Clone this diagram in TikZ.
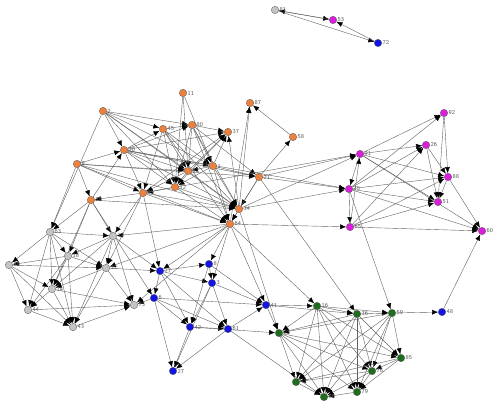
\documentclass[tikz,border=0pt]{standalone}
\usetikzlibrary{arrows.meta,backgrounds}
\begin{document}
\begin{tikzpicture}[x=1pt,y=-1pt]
\tikzset{
 vtx/.style={circle, draw=black!65, line width=0.3pt, inner sep=0pt, minimum size=7.5pt},
 org/.style={vtx, fill={rgb,255:red,236;green,128;blue,60}},
 gry/.style={vtx, fill={rgb,255:red,196;green,196;blue,196}},
 blu/.style={vtx, fill={rgb,255:red,20;green,20;blue,230}},
 grn/.style={vtx, fill={rgb,255:red,30;green,110;blue,30}},
 mag/.style={vtx, fill={rgb,255:red,220;green,30;blue,220}},
 lab/.style={font=\sffamily\fontsize{6}{6}\selectfont, text=black!65, inner sep=0.6pt},
 edge/.style={draw=black!62, line width=0.4pt, -{Latex[length=6pt,width=5pt,color=black]}}
}
\useasboundingbox (0,0) rectangle (500,406);
% top
\node[gry,label={[lab]right:81}] (g81) at (275,10) {};
\node[mag,label={[lab]right:53}] (m53) at (333,20) {};
\node[blu,label={[lab]right:72}] (b72) at (378,43) {};
% orange
\node[org,label={[lab]right:2}] (o2) at (103,111) {};
\node[org,label={[lab]right:45}] (o45) at (163,129) {};
\node[org,label={[lab]right:11}] (o11) at (183,93) {};
\node[org,label={[lab]right:80}] (o80) at (192,125) {};
\node[org,label={[lab]right:87}] (o87) at (250,103) {};
\node[org,label={[lab]right:37}] (o37) at (228,132) {};
\node[org,label={[lab]right:58}] (o58) at (293,137) {};
\node[org,label={[lab]right:30}] (o30) at (124,150) {};
\node[org,label={[lab]right:9}] (o9) at (77,164) {};
\node[org,label={[lab]right:1}] (o1) at (213,166) {};
\node[org,label={[lab]right:52}] (o52) at (188,171) {};
\node[org,label={[lab]right:21}] (o21) at (259,177) {};
\node[org,label={[lab]right:12}] (o12) at (175,187) {};
\node[org,label={[lab]right:13}] (o13) at (143,193) {};
\node[org,label={[lab]right:20}] (o20) at (91,200) {};
\node[org,label={[lab]right:34}] (o34) at (239,209) {};
\node[org,label={[lab]right:64}] (o64) at (230,224) {};
% gray
\node[gry,label={[lab]right:63}] (g63) at (50,232) {};
\node[gry,label={[lab]right:19}] (g19) at (113,236) {};
\node[gry,label={[lab]right:18}] (g18) at (68,256) {};
\node[gry,label={[lab]right:39}] (g39) at (9,265) {};
\node[gry,label={[lab]right:32}] (g32) at (106,268) {};
\node[gry,label={[lab]right:14}] (g14) at (52,289) {};
\node[gry,label={[lab]right:44}] (g44) at (28,310) {};
\node[gry,label={[lab]right:73}] (g73) at (134,305) {};
\node[gry,label={[lab]right:43}] (g43) at (73,327) {};
% blue
\node[blu,label={[lab]right:77}] (b77) at (160,271) {};
\node[blu,label={[lab]right:6}] (b6) at (154,298) {};
\node[blu,label={[lab]right:8}] (b8) at (209,264) {};
\node[blu,label={[lab]right:3}] (b3) at (212,283) {};
\node[blu,label={[lab]right:41}] (b41) at (266,305) {};
\node[blu,label={[lab]right:42}] (b42) at (190,327) {};
\node[blu,label={[lab]right:61}] (b61) at (228,329) {};
\node[blu,label={[lab]right:27}] (b27) at (173,371) {};
\node[blu,label={[lab]right:48}] (b48) at (442,312) {};
% green
\node[grn,label={[lab]right:16}] (n16) at (317,306) {};
\node[grn,label={[lab]right:36}] (n36) at (357,314) {};
\node[grn,label={[lab]right:59}] (n59) at (392,313) {};
\node[grn,label={[lab]right:23}] (n23) at (279,333) {};
\node[grn,label={[lab]right:85}] (n85) at (401,358) {};
\node[grn,label={[lab]right:76}] (n76) at (372,371) {};
\node[grn,label={[lab]right:47}] (n47) at (296,382) {};
\node[grn,label={[lab]right:90}] (n90) at (324,397) {};
\node[grn,label={[lab]right:79}] (n79) at (357,392) {};
% magenta
\node[mag,label={[lab]right:92}] (m92) at (444,113) {};
\node[mag,label={[lab]right:26}] (m26) at (426,145) {};
\node[mag,label={[lab]right:91}] (m91) at (360,154) {};
\node[mag,label={[lab]right:88}] (m88) at (448,177) {};
\node[mag,label={[lab]right:75}] (m75) at (349,189) {};
\node[mag,label={[lab]right:51}] (m51) at (438,202) {};
\node[mag,label={[lab]right:65}] (m65) at (350,227) {};
\node[mag,label={[lab]right:60}] (m60) at (482,231) {};
% edges
\begin{scope}[on background layer]
\foreach \a/\b in {
 g81/m53, m53/g81, g81/b72, b72/m53,
 o2/o30, o2/o45, o2/o80, o2/o52, o2/o1, o2/o34, o2/o12, o2/g63,
 o45/o80, o45/o52, o45/o1, o45/o12, o45/o13, o45/o34, o45/o64,
 o11/o52, o11/o1, o11/o12,
 o80/o52, o80/o1, o80/o12, o80/o34, o80/o64, o80/o21, o80/o37,
 o34/o87, o21/o58, o58/o87, o64/o87, o12/o37,
 o52/o37, o1/o37, o13/o37, o30/o37, o34/o37,
 o30/o52, o30/o12, o30/o13, o30/o1, o30/o21, o30/o34, o30/o80, o30/o45,
 o9/o20, o9/o13, o9/o52, o9/o34, o9/o64, o9/o21, o9/g63, o9/o30,
 o1/o21, o1/o34, o1/o64, o1/o12, o1/o52,
 o52/o12, o52/o13, o52/o34,
 o21/o34, o21/o64, o21/m75, o21/m91,
 o12/o13, o12/o34, o12/o64,
 o13/o20, o13/o34, o13/o64, o13/g19, o13/g32, o13/m91,
 o20/o30, o20/o34, o20/g63, o20/g19, o20/g14, o20/g18,
 o34/o64, o34/m91, o34/m75, o30/m75,
 o64/b77, o64/b8, o64/b3, o64/b41, o64/g32, o64/g19, o64/g73, o64/m65, o64/n16, o34/n23, o21/n36,
 g63/g18, g63/g39, g63/g14, g63/g32, g63/g44, g63/g43, g63/g19,
 g19/g18, g19/g32, g19/g73, g19/g14, g19/g43,
 g18/g39, g18/g14, g18/g32, g18/g43, g18/g44,
 g39/g44, g39/g14, g39/g43, g39/g32,
 g32/g14, g32/g73, g32/g43, g32/b77,
 g14/g44, g14/g43, g14/g73, g44/g43, g44/g73, g43/g73,
 b77/b6, b77/b8, b77/b3, b77/b42, b77/b61, g19/b77, o13/b77,
 b6/b27, b6/b42, b6/b61, b6/b41, b6/g73, o20/b6,
 b8/b3, b8/b41, b8/b42, b3/b42, b3/b61, b3/b27, b3/b41,
 b41/n16, b41/n23, b41/n36, b42/b27, b42/b61, b61/b27, b61/b41, b61/n90, b42/n23,
 n16/n36, n16/n59, n16/n23, n16/n47, n16/n90, n16/n79, n16/n76, n16/n85,
 n36/n59, n36/n23, n36/n47, n36/n90, n36/n79, n36/n76, n36/n85,
 n59/b48, n59/n85, n59/n76, n59/n79, n59/n90, n59/n47, n59/n23,
 n23/n47, n23/n90, n23/n79, n23/n76, n23/n85,
 n85/n76, n85/n79, n85/n47, n76/n79, n76/n90, n76/n47, n79/n90, n47/n90,
 m92/m88, m92/m51, m91/m92, m75/m92, m91/m26, m91/m88, m91/m51, m91/m75,
 m75/m26, m75/m88, m75/m51, m75/m65, m65/m91, m65/m26, m65/m88, m65/m51, m65/m60,
 m26/m51, m26/m88, m88/m51, m88/m60, m91/m60, m75/m60, b48/m60, m75/n59}{\draw[edge] (\a) -- (\b);}
\end{scope}
\end{tikzpicture}
\end{document}
